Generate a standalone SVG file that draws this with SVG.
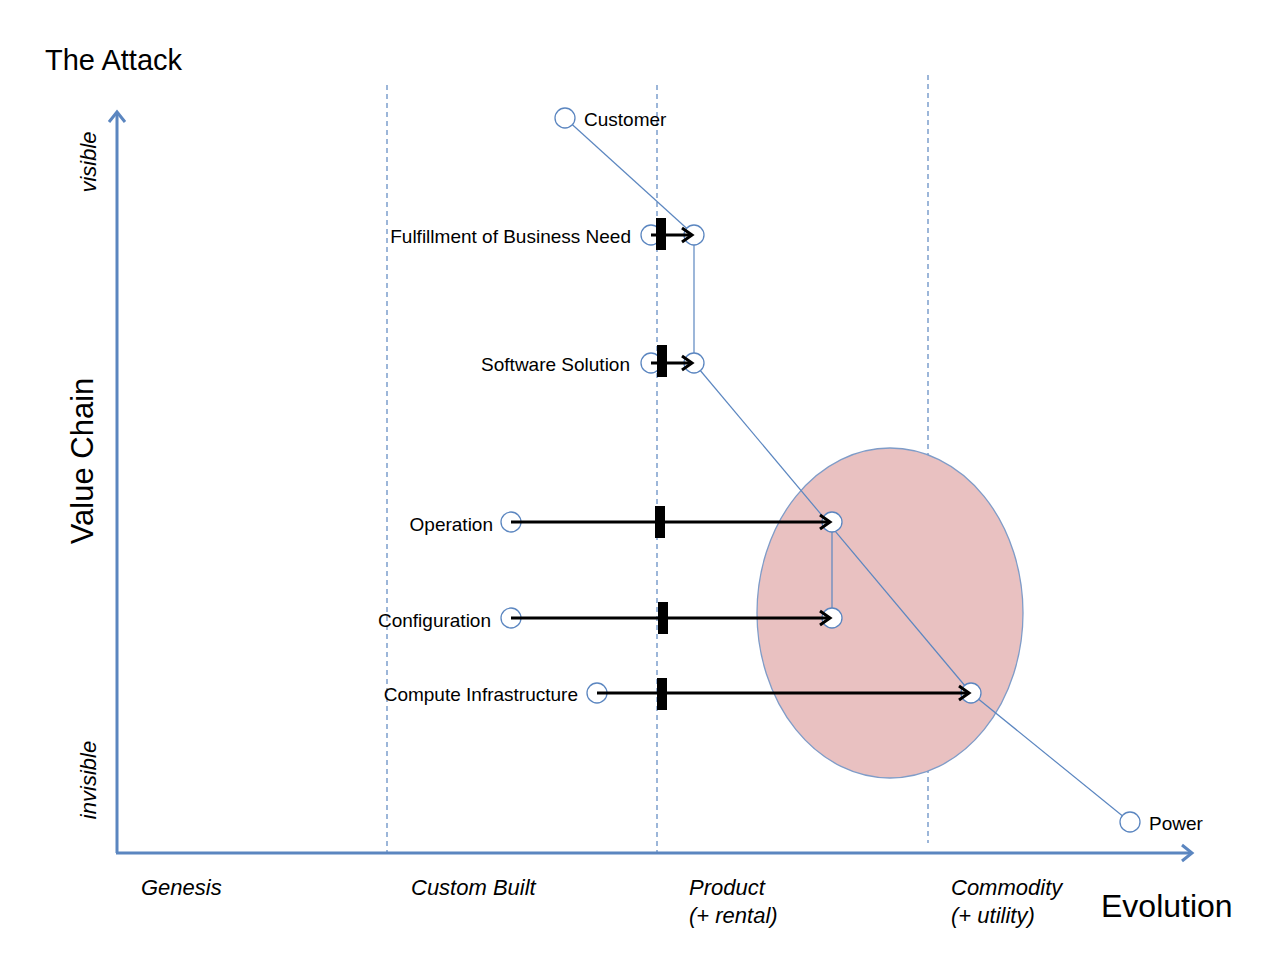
<svg xmlns="http://www.w3.org/2000/svg" width="1280" height="960" viewBox="0 0 1280 960">
<style>
text{font-family:"Liberation Sans",Arial,sans-serif;fill:#000}
.lbl{font-size:19px}
.ax{font-size:22px;font-style:italic}
.node{fill:#fff;stroke:#5b86c0;stroke-width:1.3}
.link{stroke:#5b86c0;stroke-width:1.2;fill:none}
.mv{stroke:#000;stroke-width:3;fill:none}
.bar{fill:#000}
.dash{stroke:#5b86c0;stroke-width:1.2;stroke-dasharray:5,4;fill:none}
</style>
<defs>
<marker id="ah" markerWidth="16" markerHeight="18" refX="12" refY="9" orient="auto" markerUnits="userSpaceOnUse">
<path d="M2,2 L12,9 L2,16" fill="none" stroke="#000" stroke-width="3"/>
</marker>
<marker id="axh" markerWidth="20" markerHeight="20" refX="14" refY="10" orient="auto" markerUnits="userSpaceOnUse">
<path d="M4,2 L14,10 L4,18" fill="none" stroke="#5b86c0" stroke-width="3"/>
</marker>
</defs>
<rect width="1280" height="960" fill="#fff"/>
<text x="45" y="70" font-size="29">The Attack</text>
<g id="axes">
<line x1="117" y1="853" x2="117" y2="112" stroke="#5b86c0" stroke-width="3" marker-end="url(#axh)"/>
<line x1="116" y1="853" x2="1192" y2="853" stroke="#5b86c0" stroke-width="3" marker-end="url(#axh)"/>
<line class="dash" x1="387" y1="85" x2="387" y2="853"/>
<line class="dash" x1="657" y1="85" x2="657" y2="853"/>
<line class="dash" x1="928" y1="75" x2="928" y2="843"/>
</g>
<text transform="translate(93,461) rotate(-90)" font-size="31" text-anchor="middle">Value Chain</text>
<text class="ax" transform="translate(96,162) rotate(-90)" text-anchor="middle">visible</text>
<text class="ax" transform="translate(96,780) rotate(-90)" text-anchor="middle">invisible</text>
<text class="ax" x="141" y="895">Genesis</text>
<text class="ax" x="411" y="895">Custom Built</text>
<text class="ax" x="689" y="895">Product</text>
<text class="ax" x="689" y="923">(+ rental)</text>
<text class="ax" x="951" y="895">Commodity</text>
<text class="ax" x="951" y="923">(+ utility)</text>
<text x="1101" y="917" font-size="32">Evolution</text>
<ellipse id="attack" cx="890" cy="613" rx="133" ry="165" fill="#e9c1c1" stroke="#7f9cc8" stroke-width="1.3"/>
<g id="connectors">
<line class="link" x1="565" y1="118" x2="694" y2="235"/>
<line class="link" x1="694" y1="235" x2="694" y2="363"/>
<line class="link" x1="694" y1="363" x2="971" y2="693"/>
<line class="link" x1="832" y1="522" x2="832" y2="618"/>
<line class="link" x1="971" y1="693" x2="1130" y2="822"/>
</g>
<g id="customer"><circle class="node" cx="565" cy="118" r="10"/><text class="lbl" x="584" y="126">Customer</text></g>
<g id="fulfillment"><circle class="node" cx="651" cy="235" r="10"/><circle class="node" cx="694" cy="235" r="10"/><text class="lbl" x="631" y="243" text-anchor="end">Fulfillment of Business Need</text></g>
<g id="software"><circle class="node" cx="651" cy="363" r="10"/><circle class="node" cx="694" cy="363" r="10"/><text class="lbl" x="630" y="371" text-anchor="end">Software Solution</text></g>
<g id="operation"><circle class="node" cx="511" cy="522" r="10"/><circle class="node" cx="832" cy="522" r="10"/><text class="lbl" x="493" y="531" text-anchor="end">Operation</text></g>
<g id="configuration"><circle class="node" cx="511" cy="618" r="10"/><circle class="node" cx="832" cy="618" r="10"/><text class="lbl" x="491" y="627" text-anchor="end">Configuration</text></g>
<g id="compute"><circle class="node" cx="597" cy="693" r="10"/><circle class="node" cx="971" cy="693" r="10"/><text class="lbl" x="578" y="701" text-anchor="end">Compute Infrastructure</text></g>
<g id="power"><circle class="node" cx="1130" cy="822" r="10"/><text class="lbl" x="1149" y="830">Power</text></g>
<g id="movements">
<line class="mv" x1="651" y1="235" x2="692" y2="235" marker-end="url(#ah)"/>
<rect class="bar" x="656" y="218" width="10" height="32"/>
<line class="mv" x1="651" y1="363" x2="692" y2="363" marker-end="url(#ah)"/>
<rect class="bar" x="657" y="345" width="10" height="32"/>
<line class="mv" x1="511" y1="522" x2="830" y2="522" marker-end="url(#ah)"/>
<rect class="bar" x="655" y="506" width="10" height="32"/>
<line class="mv" x1="511" y1="618" x2="830" y2="618" marker-end="url(#ah)"/>
<rect class="bar" x="658" y="602" width="10" height="32"/>
<line class="mv" x1="597" y1="693" x2="969" y2="693" marker-end="url(#ah)"/>
<rect class="bar" x="657" y="678" width="10" height="32"/>
</g>
</svg>
